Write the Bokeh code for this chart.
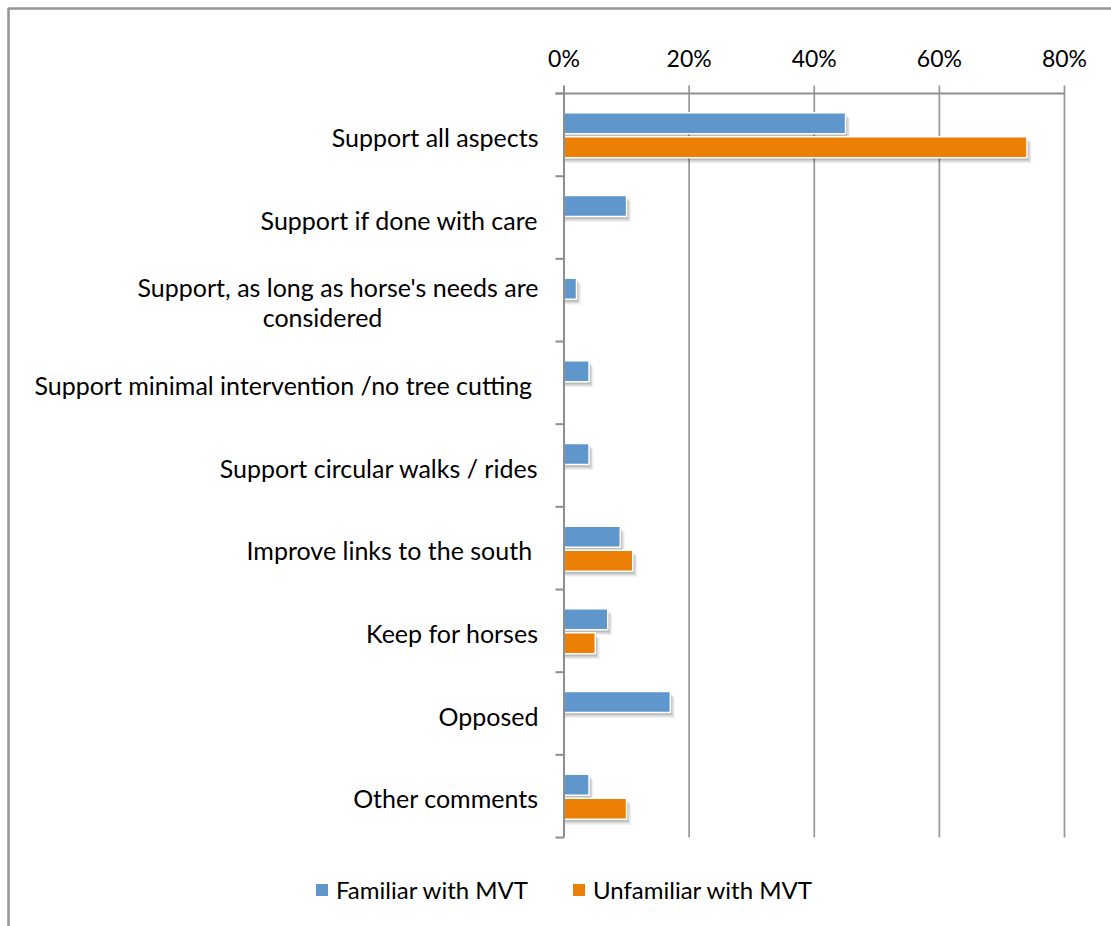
from bokeh.plotting import figure
from bokeh.models import Range1d, ColumnDataSource, Legend, LegendItem
from bokeh.core.properties import value
from bokeh.embed import file_html
from bokeh.resources import INLINE

# ---------------- data ----------------
categories = [
    "Support all aspects",
    "Support if done with care",
    "Support, as long as horse's needs are\nconsidered",
    "Support minimal intervention /no tree cutting ",
    "Support circular walks / rides",
    "Improve links to the south ",
    "Keep for horses",
    "Opposed",
    "Other comments",
]
familiar = [45, 10, 2, 4, 4, 9, 7, 17, 4]
unfamiliar = [74, 0, 0, 0, 0, 11, 5, 0, 10]
series_names = ["Familiar with MVT", "Unfamiliar with MVT"]
x_ticks = [0, 20, 40, 60, 80]
x_tick_labels = ["0%", "20%", "40%", "60%", "80%"]

# ---------------- style / layout ----------------
colors = ["#5F96CB", "#EC8006"]
FONT = "Lato"
FS = "25px"
FS_LEG = "24px"
FS_TICK = "23px"
W, H = 1111, 926
X0 = 563.5           # pixel of 0 %
PXU = 500.5 / 80.0   # pixels per percent
TOP = 93.0           # pixel of top of plot area
BAND = 82.67         # pixels per category band


def sx(px):
    return (px - X0) / PXU


def sy(py):
    return (py - TOP) / BAND - 0.5


p = figure(width=W, height=H, x_range=Range1d(sx(0), sx(W)),
           y_range=Range1d(sy(H), sy(0)), output_backend="svg",
           toolbar_location=None, x_axis_location=None, y_axis_location=None,
           min_border=0, outline_line_color=None, background_fill_color="white",
           border_fill_color="white")
p.xgrid.visible = False
p.ygrid.visible = False

# outer chart border (top + left)
p.line(x=[sx(8), sx(8), sx(W + 5)], y=[sy(H + 5), sy(8), sy(8)],
       line_color="#959595", line_width=2.5)

n = len(categories)
ys = list(range(n))

# vertical gridlines (with tick stubs above the axis)
grid_x = [t for t in x_ticks if t != 0]
p.segment(x0=grid_x, x1=grid_x, y0=[sy(85)] * len(grid_x), y1=[n - 0.5] * len(grid_x),
          line_color="#9a9a9a", line_width=1.75)

# bars with soft shadows
offsets = [-11.5, 12.5]
bar_h = 21.0 / BAND
bar_renderers = []
for i, vals in enumerate([familiar, unfamiliar]):
    yy = [k + offsets[i] / BAND for k, v in zip(ys, vals) if v > 0]
    vv = [v for v in vals if v > 0]
    for (dxp, dyp, a) in [(4.5, 5.5, 0.06), (3, 4, 0.10), (1.5, 2.5, 0.12)]:
        p.quad(left=[0] * len(vv), right=[v + dxp / PXU for v in vv],
               top=[y - bar_h / 2 + dyp / BAND for y in yy],
               bottom=[y + bar_h / 2 + dyp / BAND for y in yy],
               fill_color="black", fill_alpha=a, line_color=None)
    src = ColumnDataSource(dict(y=yy, right=vv))
    r = p.hbar(y="y", left=0, right="right", height=bar_h, source=src,
               fill_color=colors[i], line_color="white", line_width=1.5)
    bar_renderers.append(r)

# left axis line, top axis line, and tick marks
p.segment(x0=[0], x1=[0], y0=[sy(85)], y1=[n - 0.5], line_color="#8e8e8e", line_width=2)
p.segment(x0=[sx(555)], x1=[x_ticks[-1]], y0=[-0.5], y1=[-0.5], line_color="#8e8e8e", line_width=2)
bounds = [k - 0.5 for k in range(n + 1)]
p.segment(x0=[sx(555)] * len(bounds), x1=[0] * len(bounds), y0=bounds, y1=bounds,
          line_color="#8e8e8e", line_width=2)

# top tick labels
p.text(x=x_ticks, y=[sy(57)] * len(x_ticks), text=x_tick_labels,
       text_align="center", text_baseline="middle", text_font=value(FONT),
       text_font_size=FS_TICK, text_color="black")

# category labels
first_x, first_y, first_t = [], [], []
extra_x, extra_y, extra_t = [], [], []
for k, c in enumerate(categories):
    lines = c.split("\n")
    m = len(lines)
    for j, ln in enumerate(lines):
        yv = k + (2 + (j - (m - 1) / 2) * 30) / BAND
        if j == 0:
            first_x.append(sx(538)); first_y.append(yv); first_t.append(ln)
        else:
            extra_x.append(sx(322)); extra_y.append(yv); extra_t.append(ln)
p.text(x=first_x, y=first_y, text=first_t, text_align="right", text_baseline="middle",
       text_font=value(FONT), text_font_size=FS, text_color="black")
p.text(x=extra_x, y=extra_y, text=extra_t, text_align="center", text_baseline="middle",
       text_font=value(FONT), text_font_size=FS, text_color="black")

# legend
legend = Legend(items=[LegendItem(label=series_names[i], renderers=[bar_renderers[i]])
                       for i in range(2)],
                orientation="horizontal", location=(313, 22),
                glyph_width=17, glyph_height=17, label_standoff=6, spacing=42,
                padding=0, margin=0, border_line_color=None,
                background_fill_alpha=0, label_text_font=FONT,
                label_text_font_size=FS_LEG, label_text_color="black", label_height=20)
p.add_layout(legend)

open("out.html", "w").write(file_html(p, INLINE))
